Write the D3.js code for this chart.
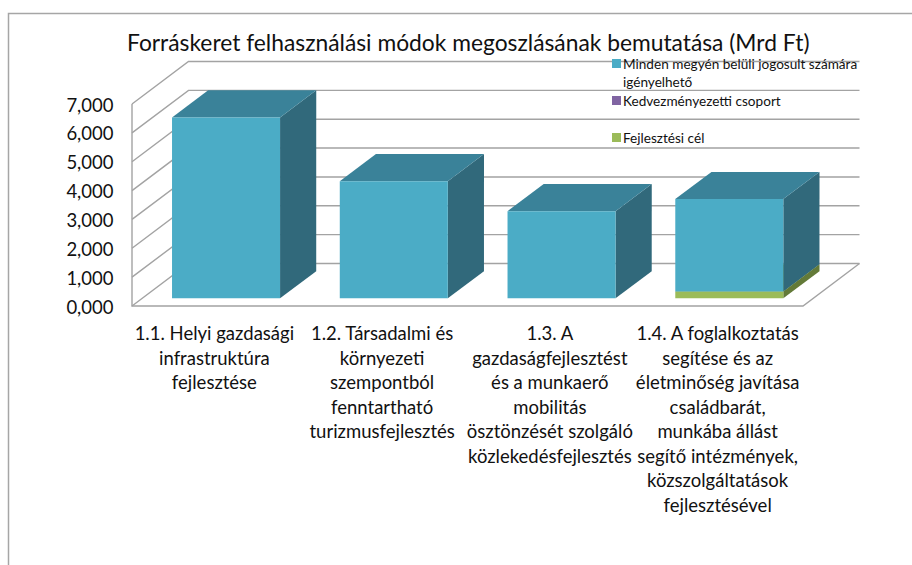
<!DOCTYPE html>
<html><head><meta charset="utf-8">
<script src="https://cdn.jsdelivr.net/npm/d3@7"></script>
<style>html,body{margin:0;padding:0;background:#fff}svg{display:block}text{font-family:Lato,"Open Sans",sans-serif;fill:#111}</style>
</head><body><svg id="c" width="912" height="565"></svg>
<script>
const titleText = "Forráskeret felhasználási módok megoszlásának bemutatása (Mrd Ft)";
const categories = ["1.1","1.2","1.3","1.4"];
const categoryLabels = [
 ["1.1. Helyi gazdasági","infrastruktúra","fejlesztése"],
 ["1.2. Társadalmi és","környezeti","szempontból","fenntartható","turizmusfejlesztés"],
 ["1.3. A","gazdaságfejlesztést","és a munkaerő","mobilitás","ösztönzését szolgáló","közlekedésfejlesztés"],
 ["1.4. A foglalkoztatás","segítése és az","életminőség javítása","családbarát,","munkába állást","segítő intézmények,","közszolgáltatások","fejlesztésével"]
];
const fejlesztesiCel = [0,0,0,0.24];
const kedvezmenyezetti = [0,0,0,0];
const mindenMegyen = [6.27,4.06,3.02,3.2];
const yTicks = [0,1,2,3,4,5,6,7];
const legendLabels = [["Minden megyén belüli jogosult számára","igényelhető"],["Kedvezményezetti csoport"],["Fejlesztési cél"]];

const colors = {
  minden:{front:"#4bacc6",top:"#3a8299",side:"#31697b"},
  kedv:{front:"#8064a2",top:"#655081",side:"#54426b"},
  fejl:{front:"#9bbb59",top:"#7d9747",side:"#637a38"}
};
const series = [
  {key:"fejl",values:fejlesztesiCel},
  {key:"kedv",values:kedvezmenyezetti},
  {key:"minden",values:mindenMegyen}
];
const grid="#a3a3a3";
const svg=d3.select("#c");
// frame
svg.append("path").attr("d","M8.5,565V13.5H912").attr("fill","none").attr("stroke","#a6a6a6").attr("stroke-width",1.5);

const x=d3.scaleBand().domain(categories).range([132,803]).paddingInner(0.356).paddingOuter(0.178);
const y=d3.scaleLinear().domain([0,7]).range([306,104]);
const dx=d3.scaleLinear().domain([0,1]).range([0,56.5]);
const dy=d3.scaleLinear().domain([0,1]).range([0,-42.5]);
const P=(px,v,t)=>[px+dx(t),y(v)+dy(t)];
const poly=pts=>"M"+pts.map(p=>p.join(",")).join("L")+"Z";
const line=pts=>"M"+pts.map(p=>p.join(",")).join("L");
const left=132,right=803;

const g=svg.append("g").attr("fill","none").attr("stroke",grid).attr("stroke-width",1.4);
yTicks.forEach(v=>{
  g.append("path").attr("d",line([P(left,v,0),P(left,v,1),P(right,v,1)]));
});
g.append("path").attr("d",line([P(left,7,0),P(left,0,0),P(right,0,0),P(right,0,1)]));

// bars
const bz0=0.18,bz1=0.82;
categories.forEach((c,i)=>{
  let acc=0;
  series.forEach(s=>{
    const v=s.values[i]; if(v<=0) return;
    const x0=x(c),x1=x(c)+x.bandwidth(),col=colors[s.key];
    const a=acc,b=acc+v; acc=b;
    svg.append("path").attr("fill",col.side).attr("d",poly([P(x1,a,bz0),P(x1,a,bz1),P(x1,b,bz1),P(x1,b,bz0)]));
    svg.append("path").attr("fill",col.top).attr("d",poly([P(x0,b,bz0),P(x0,b,bz1),P(x1,b,bz1),P(x1,b,bz0)]));
    svg.append("path").attr("fill",col.front).attr("d",poly([P(x0,a,bz0),P(x1,a,bz0),P(x1,b,bz0),P(x0,b,bz0)]));
  });
});

// y labels
svg.append("g").selectAll("text").data(yTicks).join("text")
  .attr("x",113.5).attr("y",d=>y(d)+7.5).attr("text-anchor","end").attr("font-size",18.5)
  .text(d=>d3.format(",.3f")(d).replace(".",","));

// category labels
categories.forEach((c,i)=>{
  const cx=x(c)+x.bandwidth()/2-1.5;
  const t=svg.append("text").attr("text-anchor","middle").attr("font-size",18.5);
  categoryLabels[i].forEach((l,j)=>t.append("tspan").attr("x",cx).attr("y",340+j*24.55).text(l));
});

// title
svg.append("text").attr("x",127).attr("y",51).attr("font-size",22.8).text(titleText);

// legend
const lg=[{k:"minden",y:59},{k:"kedv",y:96},{k:"fejl",y:133}];
lg.forEach((d,i)=>{
  svg.append("rect").attr("x",612).attr("y",d.y).attr("width",9).attr("height",9).attr("fill",colors[d.k].front);
  legendLabels[i].forEach((l,j)=>svg.append("text").attr("x",623).attr("y",d.y+9.5+j*18.3).attr("font-size",13.6).text(l));
});
</script></body></html>
